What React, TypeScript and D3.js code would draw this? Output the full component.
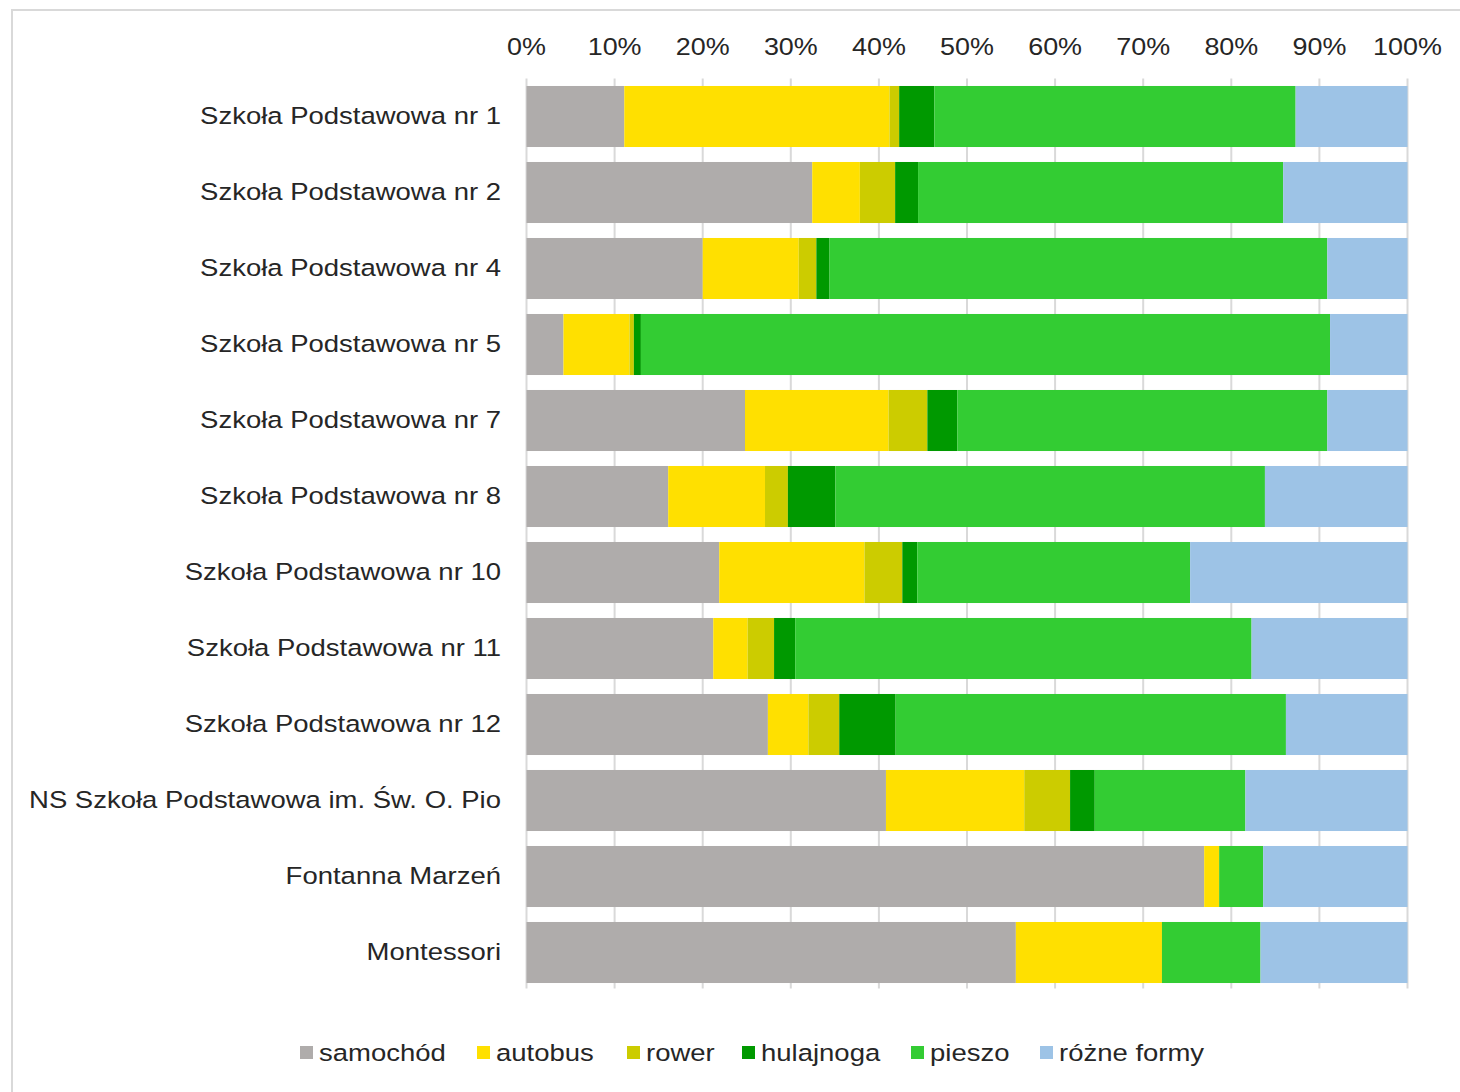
import React from "react";
import * as d3 from "d3";

const categories = [
  "Szkoła Podstawowa nr 1",
  "Szkoła Podstawowa nr 2",
  "Szkoła Podstawowa nr 4",
  "Szkoła Podstawowa nr 5",
  "Szkoła Podstawowa nr 7",
  "Szkoła Podstawowa nr 8",
  "Szkoła Podstawowa nr 10",
  "Szkoła Podstawowa nr 11",
  "Szkoła Podstawowa nr 12",
  "NS Szkoła Podstawowa im. Św. O. Pio",
  "Fontanna Marzeń",
  "Montessori",
];

const seriesNames = ["samochód", "autobus", "rower", "hulajnoga", "pieszo", "różne formy"];
const seriesColors = ["#AFACAB", "#FFE000", "#CCCC00", "#009900", "#33CC33", "#9DC3E6"];

const samochod = [11.1, 32.4, 20.0, 4.2, 24.8, 16.1, 21.9, 21.2, 27.4, 40.8, 77.0, 55.6];
const autobus = [30.1, 5.4, 10.9, 7.5, 16.3, 11.0, 16.5, 3.9, 4.6, 15.7, 1.7, 16.6];
const rower = [1.1, 4.0, 2.0, 0.5, 4.4, 2.6, 4.3, 3.0, 3.5, 5.2, 0, 0];
const hulajnoga = [4.0, 2.6, 1.5, 0.8, 3.4, 5.4, 1.7, 2.4, 6.4, 2.8, 0, 0];
const pieszo = [41.0, 41.4, 56.5, 78.3, 42.0, 48.8, 31.0, 51.8, 44.3, 17.1, 5.0, 11.2];
const rozne = [12.7, 14.1, 9.1, 8.8, 9.1, 16.2, 24.7, 17.7, 13.8, 18.4, 16.4, 16.7];

const tickValues = [0, 10, 20, 30, 40, 50, 60, 70, 80, 90, 100];

const allSeries = [samochod, autobus, rower, hulajnoga, pieszo, rozne];

const SX = 1.17;
const TEXT_COLOR = "#262626";

function WideText(props: { x: number; y: number; anchor?: string; size: number; children: any; dy?: string }) {
  return (
    <text
      transform={`translate(${props.x},${props.y}) scale(${SX},1)`}
      dy={props.dy}
      textAnchor={props.anchor || "start"}
      fontSize={props.size}
      fill={TEXT_COLOR}
    >
      {props.children}
    </text>
  );
}

export default function App() {
  const W = 1460;
  const H = 1092;
  const x0 = 526.5;
  const x1 = 1407.5;
  const yTop = 78.5;
  const yBot = 990.5;

  const rows = categories.map((c, i) => {
    const obj: any = { cat: c };
    const total = allSeries.reduce((s, a) => s + a[i], 0);
    seriesNames.forEach((n, k) => (obj[n] = (allSeries[k][i] / total) * 100));
    return obj;
  });
  const stacked = d3.stack().keys(seriesNames)(rows);

  const x = d3.scaleLinear().domain([0, 100]).range([x0, x1]);
  const y = d3.scaleBand().domain(categories).range([yTop, yBot]).paddingInner(0.197).paddingOuter(0.0985);

  const font = "'Liberation Sans', Arial, sans-serif";

  const legendX = [300, 477, 627, 742, 911, 1040];

  return (
    <svg width={W} height={H} style={{ position: "absolute", left: 0, top: 0 }} fontFamily={font}>
      <rect x={0} y={0} width={W} height={H} fill="#fff" />
      <rect x={12} y={10} width={W} height={H} fill="none" stroke="#d9d9d9" strokeWidth={2} />
      {tickValues.map((t) => (
        <line key={"g" + t} x1={x(t)} x2={x(t)} y1={yTop} y2={yBot - 2} stroke="#d9d9d9" strokeWidth={2} />
      ))}
      {tickValues.map((t) => (
        <WideText key={"t" + t} x={x(t)} y={55} anchor="middle" size={23}>
          {t + "%"}
        </WideText>
      ))}
      {stacked.map((s, k) => (
        <g key={s.key} fill={seriesColors[k]}>
          {s.map((d, i) =>
            d[1] - d[0] > 0 ? (
              <rect
                key={i}
                x={x(d[0])}
                width={x(d[1]) - x(d[0])}
                y={y(categories[i])}
                height={y.bandwidth()}
              />
            ) : null
          )}
        </g>
      ))}
      {categories.map((c) => (
        <WideText
          key={c}
          x={501}
          y={(y(c) as number) + y.bandwidth() / 2 - 1}
          dy="0.35em"
          anchor="end"
          size={23.5}
        >
          {c}
        </WideText>
      ))}
      {seriesNames.map((n, k) => (
        <g key={n}>
          <rect x={legendX[k]} y={1046} width={13} height={13} fill={seriesColors[k]} />
          <WideText x={legendX[k] + 19} y={1053} dy="0.35em" size={23.5}>
            {n}
          </WideText>
        </g>
      ))}
    </svg>
  );
}
